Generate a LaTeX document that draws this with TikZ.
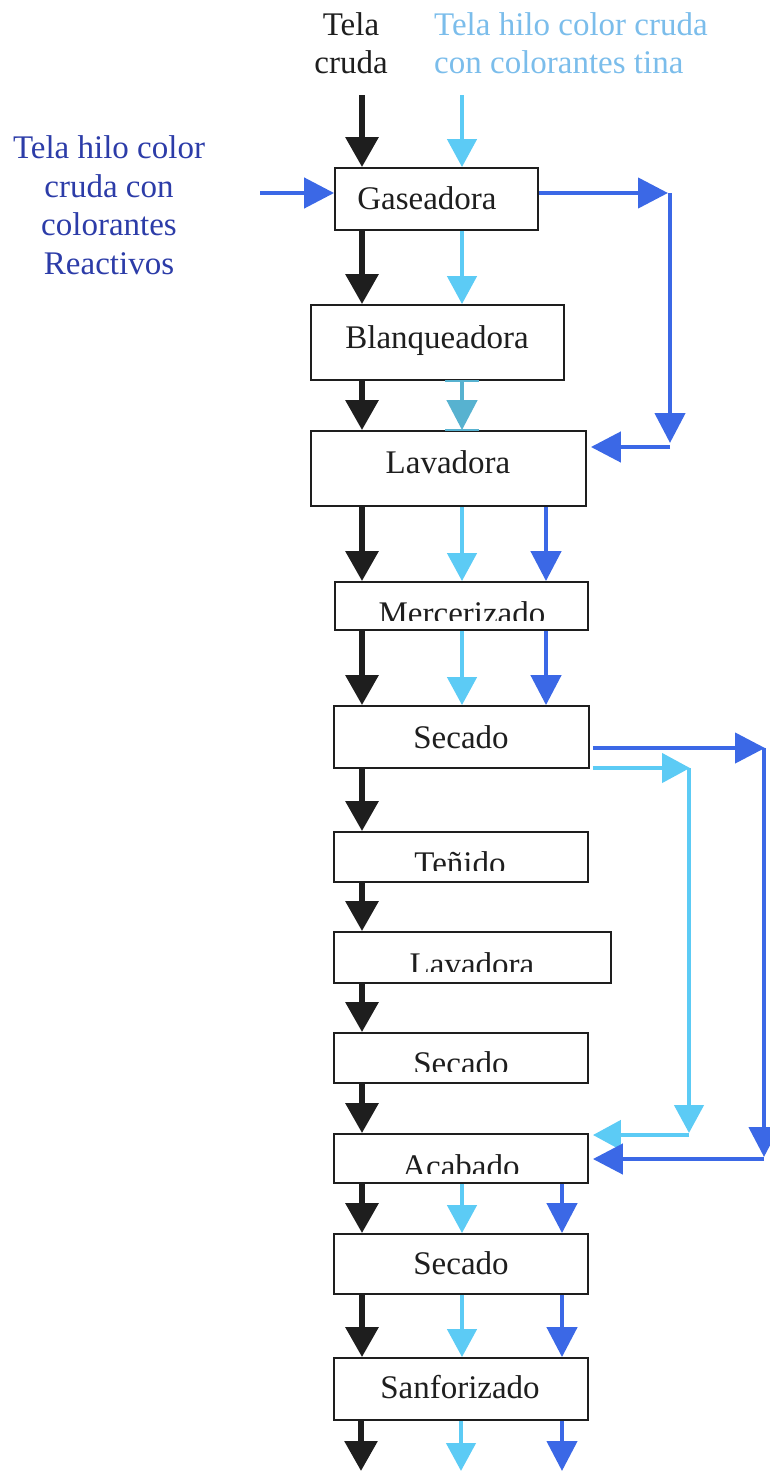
\documentclass[tikz,border=0pt]{standalone}
\usepackage{fontspec}
\setmainfont{Liberation Serif}
\usetikzlibrary{arrows.meta}
\definecolor{ink}{HTML}{1E1E1E}
\definecolor{skyln}{HTML}{5CCBF5}
\definecolor{royal}{HTML}{3B68E6}
\definecolor{tealln}{HTML}{57B2D0}
\definecolor{navytxt}{HTML}{2C3CA8}
\definecolor{skytxt}{HTML}{7BBDEB}
\begin{document}
\begin{tikzpicture}[x=1pt,y=-1pt,
  box/.style={draw=ink,line width=1.8pt,fill=white,inner sep=0pt,rectangle},
  lbl/.style={font=\fontsize{33}{38}\selectfont,inner sep=0pt,text=ink,anchor=base},
  kflow/.style={draw=ink,line width=6pt,-{Triangle[width=32pt,length=30pt]}},
  lflow/.style={draw=skyln,line width=4.5pt,-{Triangle[width=29pt,length=28pt]}},
  bflow/.style={draw=royal,line width=4.5pt,-{Triangle[width=30pt,length=30pt]}},
  tflow/.style={draw=tealln,line width=4.5pt,-{Triangle[width=30pt,length=30pt]}},
  tbar/.style={draw=tealln,line width=2.5pt},
]
\useasboundingbox (0,0) rectangle (770,1472);

% column positions of the three flows
\coordinate (K) at (362,0);
\coordinate (L) at (462,0);
\coordinate (B) at (546,0);
\coordinate (B2) at (562,0);

% process boxes
\node[box,minimum width=203pt,minimum height=62pt] (gas) at (436.5,199) {};
\node[box,minimum width=253pt,minimum height=75pt] (blq) at (437.5,342.5) {};
\node[box,minimum width=275pt,minimum height=75pt] (lav1) at (448.5,468.5) {};
\node[box,minimum width=253pt,minimum height=48pt] (mer) at (461.5,606) {};
\node[box,minimum width=255pt,minimum height=62pt] (sec1) at (461.5,737) {};
\node[box,minimum width=254pt,minimum height=50pt] (ten) at (461,857) {};
\node[box,minimum width=277pt,minimum height=51pt] (lav2) at (472.5,957.5) {};
\node[box,minimum width=254pt,minimum height=50pt] (sec3) at (461,1058) {};
\node[box,minimum width=254pt,minimum height=49pt] (aca) at (461,1158.5) {};
\node[box,minimum width=254pt,minimum height=60pt] (sec4) at (461,1264) {};
\node[box,minimum width=254pt,minimum height=62pt] (san) at (461,1389) {};

% box labels
\node[lbl] (tgas) at (427,209) {Gaseadora};
\node[lbl] (tblq) at (437,348) {Blanqueadora};
\node[lbl] (tlav1) at (448,473) {Lavadora};
\begin{scope}\clip (335,583) rectangle (588,620);
\node[lbl] (tmer) at (462,624) {Mercerizado};\end{scope}
\node[lbl] (tsec1) at (461,748) {Secado};
\begin{scope}\clip (335,833) rectangle (588,870);
\node[lbl] (tten) at (460,874) {Teñido};\end{scope}
\begin{scope}\clip (335,933) rectangle (610,971);
\node[lbl] (tlav2) at (472,975) {Lavadora};\end{scope}
\begin{scope}\clip (335,1034) rectangle (588,1071);
\node[lbl] (tsec3) at (461,1074) {Secado};\end{scope}
\begin{scope}\clip (335,1135) rectangle (588,1173);
\node[lbl] (taca) at (461,1177) {Acabado};\end{scope}
\node[lbl] (tsec4) at (461,1274) {Secado};
\node[lbl] (tsan) at (460,1398) {Sanforizado};

% input labels
\node[lbl,anchor=north,align=center] (cruda) at (351,12.5) {Tela\\cruda};
\node[lbl,anchor=north west,align=left,text=skytxt] (tina) at (434,12.5)
  {Tela hilo color cruda\\con colorantes tina};
\node[lbl,anchor=north,align=center,text=navytxt,font=\fontsize{33}{38.5}\selectfont]
  (reac) at (109,135.5) {Tela hilo color\\cruda con\\colorantes\\Reactivos};

% inputs
\coordinate (kin) at (362,95);
\coordinate (lin) at (462,95);
\coordinate (bin) at (260,193);
\draw[kflow] (kin) -- (gas.north -| K);
\draw[lflow] (lin) -- (gas.north -| L);
\draw[bflow] (bin) -- (gas.west |- bin);

% black flow
\draw[kflow] (gas.south -| K) -- (blq.north -| K);
\draw[kflow] (blq.south -| K) -- (lav1.north -| K);
\draw[kflow] (lav1.south -| K) -- (mer.north -| K);
\draw[kflow] (mer.south -| K) -- (sec1.north -| K);
\draw[kflow] (sec1.south -| K) -- (ten.north -| K);
\draw[kflow] (ten.south -| K) -- (lav2.north -| K);
\draw[kflow] (lav2.south -| K) -- (sec3.north -| K);
\draw[kflow] (sec3.south -| K) -- (aca.north -| K);
\draw[kflow] (aca.south -| K) -- (sec4.north -| K);
\draw[kflow] (sec4.south -| K) -- (san.north -| K);
\coordinate (kout) at (361,1471);
\draw[kflow] (san.south -| kout) -- (kout);

% vat-dye flow
\draw[lflow] (gas.south -| L) -- (blq.north -| L);
\draw[tflow] (blq.south -| L) -- (lav1.north -| L);
\draw[tbar] ([xshift=-17pt]blq.south -| L) -- ([xshift=17pt]blq.south -| L);
\draw[tbar] ([xshift=-17pt]lav1.north -| L) -- ([xshift=17pt]lav1.north -| L);
\draw[lflow] (lav1.south -| L) -- (mer.north -| L);
\draw[lflow] (mer.south -| L) -- (sec1.north -| L);
\coordinate (t1) at (689,768);
\coordinate (t2) at (689,1135);
\draw[lflow] ([xshift=3pt]sec1.east |- t1) -- ([xshift=1pt]t1);
\draw[lflow] (t1) -- ([yshift=2pt]t2);
\draw[lflow] (t2) -- ([xshift=4pt]aca.east |- t2);
\draw[lflow] (aca.south -| L) -- (sec4.north -| L);
\draw[lflow] (sec4.south -| L) -- (san.north -| L);
\coordinate (lout) at (461,1471);
\draw[lflow] (san.south -| lout) -- (lout);

% reactive-dye flow
\coordinate (g1) at (670,193);
\coordinate (g2) at (670,447);
\draw[bflow] (gas.east |- g1) -- ([xshift=-2pt]g1);
\draw[bflow] (g1) -- ([yshift=4pt]g2);
\draw[bflow] (g2) -- ([xshift=4pt]lav1.east |- g2);
\draw[bflow] (lav1.south -| B) -- (mer.north -| B);
\draw[bflow] (mer.south -| B) -- (sec1.north -| B);
\coordinate (s1) at (764,748);
\coordinate (s2) at (764,1159);
\draw[bflow] ([xshift=3pt]sec1.east |- s1) -- ([xshift=1pt]s1);
\draw[bflow] (s1) -- ([yshift=2pt]s2);
\draw[bflow] (s2) -- ([xshift=4pt]aca.east |- s2);
\draw[bflow] (aca.south -| B2) -- (sec4.north -| B2);
\draw[bflow] (sec4.south -| B2) -- (san.north -| B2);
\coordinate (bout) at (562,1471);
\draw[bflow] (san.south -| bout) -- (bout);
\end{tikzpicture}
\end{document}
